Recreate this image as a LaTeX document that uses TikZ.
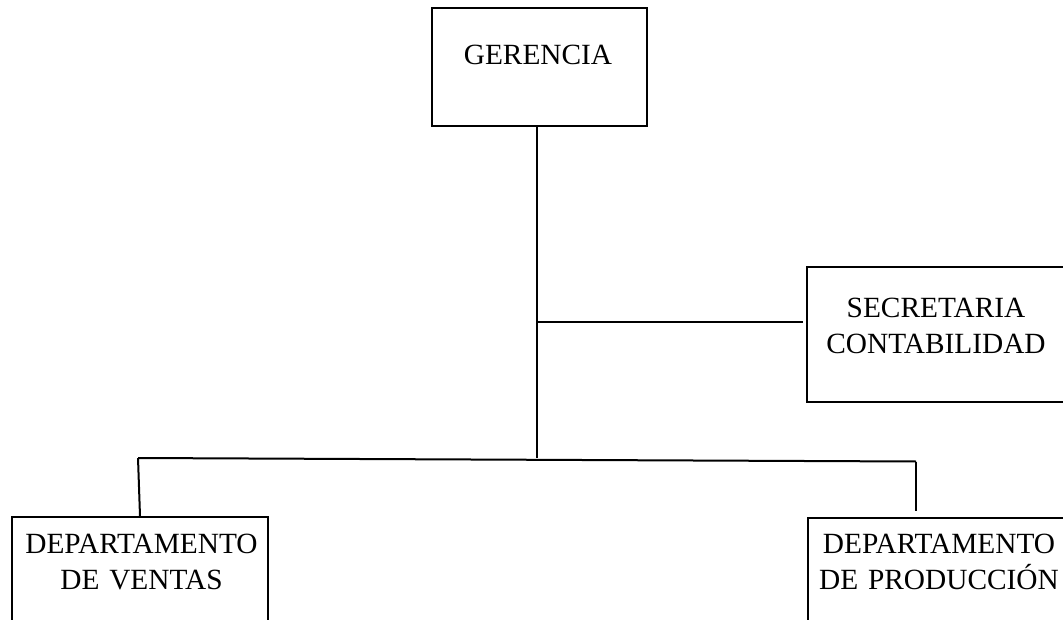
\documentclass[tikz,border=0pt]{standalone}
\usepackage{fontspec}
\setmainfont{Liberation Serif}
\usepackage{tikz}

\tikzset{
	caja/.style={draw, line width=1.5pt, rectangle, inner sep=0pt},
	texto/.style={text width=8cm, align=center, anchor=base, inner sep=0pt,
		font=\fontsize{22pt}{27.2pt}\selectfont},
}

\begin{document}
\begin{tikzpicture}[x=0.75pt, y=-0.75pt, line width=1.5pt]
					\clip (0,0) rectangle (1063,620);
					\node[caja, minimum width=161.25pt, minimum height=88.5pt] (ger) at (539.5,67) {};
					\node[caja, minimum width=206.25pt, minimum height=101.25pt] (sec) at (944.5,334.5) {};
					\node[caja, minimum width=192pt, minimum height=99.75pt] (ventas) at (140,583.5) {};
					\node[caja, minimum width=206.25pt, minimum height=99.75pt] (prod) at (945.5,584.5) {};
					
					\node[texto] (gerT) at (538,65) {GERENCIA};
					\node[texto] (secT) at (936,317.5) {SECRETARIA\\CONTABILIDAD};
					\node[texto] (ventasT) at (141.5,553) {DEPARTAMENTO\\DE VENTAS};
					\node[texto] (prodT) at (939,553) {DEPARTAMENTO\\DE PRODUCCIÓN};
					
					\coordinate (cruce) at (537,458);
					\coordinate (rama) at (537,322);
					\coordinate (izq) at (138,458);
					\coordinate (der) at (916,461.5);
					
					\draw
					(ger.south -| cruce) edge[-] (cruce)
					(rama) edge[-, shorten >=2pt] (rama -| sec.west)
					(izq) edge[-] (der)
						edge[-] (ventas.north)
					(der) edge[-, shorten >=4.5pt] (der |- prod.north);
				\end{tikzpicture}
\end{document}
